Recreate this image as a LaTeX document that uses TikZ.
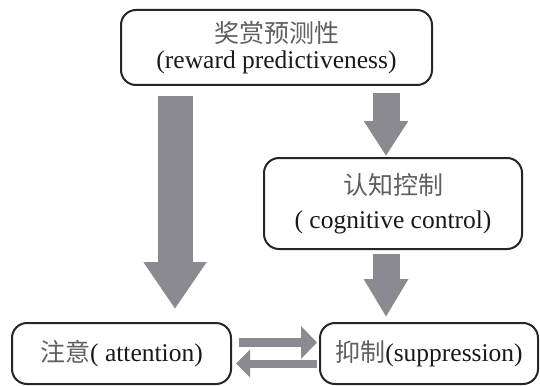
\documentclass[tikz,border=0pt]{standalone}
\usepackage{fontspec}
\setmainfont{Liberation Serif}
\newfontfamily\cjk{Noto Sans CJK SC}
\usetikzlibrary{arrows.meta}
\definecolor{arrowgray}{RGB}{138,138,144}
\definecolor{cjkgray}{RGB}{95,95,95}
\definecolor{txt}{RGB}{25,25,25}
\tikzset{
  box/.style={draw=black!85, line width=2pt, rounded corners=15pt, inner sep=0pt,
    align=center, text=txt, font=\fontsize{25.5}{29}\selectfont},
  bigarrow/.style={draw=arrowgray, line width=#1, line cap=butt},
}
\newcommand{\zh}[1]{{\cjk\fontsize{25}{29}\selectfont\color{cjkgray}#1}}
\begin{document}
\begin{tikzpicture}[x=1pt,y=-1pt]
\useasboundingbox[fill=white] (0,0) rectangle (540,385);
\node[box, minimum width=311pt, minimum height=75pt] (top) at (276.5,47.5)
  {\zh{奖赏预测性}\\[-3pt](reward predictiveness)};
\node[box, minimum width=258pt, minimum height=91pt] (cog) at (393,203.5)
  {\zh{认知控制}\\[5pt]( cognitive control)};
\node[box, minimum width=219pt, minimum height=61pt] (att) at (121.5,353.5)
  {\zh{注意}( attention)};
\node[box, minimum width=218pt, minimum height=61pt] (sup) at (429,353.5)
  {\zh{抑制}(suppression)};
\coordinate (la) at (175,0);
\coordinate (ra) at (386,0);
\coordinate (h1) at (0,342.5);
\coordinate (h2) at (0,363.5);
\draw[bigarrow=35pt, -{Triangle[length=47pt,width=60pt]}, shorten <=10pt, shorten >=13pt]
  (top.south -| la) -- (att.north -| la);
\draw[bigarrow=27pt, -{Triangle[length=35pt,width=42pt]}, shorten <=7pt, shorten >=1pt]
  (top.south -| ra) -- (cog.north -| ra);
\draw[bigarrow=27pt, -{Triangle[length=38pt,width=42pt]}, shorten <=4pt, shorten >=5pt]
  (cog.south -| ra) -- (sup.north -| ra);
\draw[bigarrow=9pt, -{Triangle[length=16pt,width=32pt]}, shorten <=7pt, shorten >=2pt]
  (att.east |- h1) -- (sup.west |- h1);
\draw[bigarrow=8pt, -{Triangle[length=14pt,width=27pt]}, shorten <=2pt, shorten >=4pt]
  (sup.west |- h2) -- (att.east |- h2);
\end{tikzpicture}
\end{document}
